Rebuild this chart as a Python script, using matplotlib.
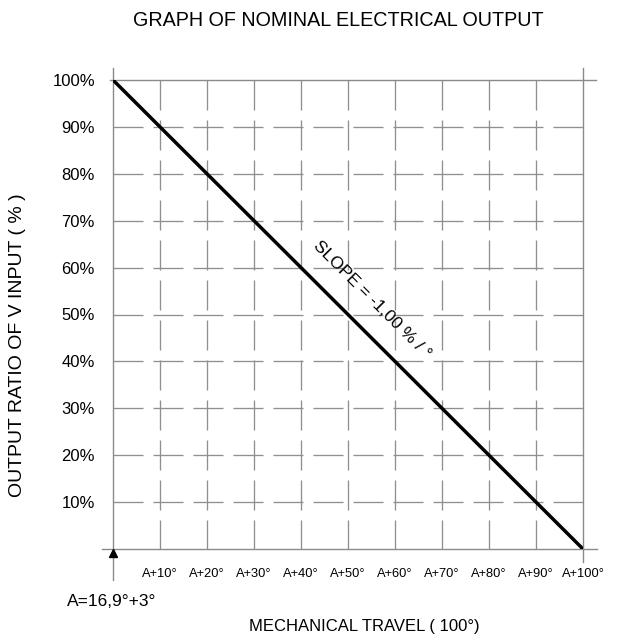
import matplotlib
matplotlib.use("Agg")
import matplotlib.pyplot as plt
import matplotlib.transforms as mtransforms

plt.rcParams['font.family'] = ['Liberation Sans', 'DejaVu Sans']
plt.rcParams['lines.scale_dashes'] = False

# data
travel = [0, 100]
output = [100, 0]
x_grid = [10, 20, 30, 40, 50, 60, 70, 80, 90]
y_grid = [10, 20, 30, 40, 50, 60, 70, 80, 90]
x_ticks = [10, 20, 30, 40, 50, 60, 70, 80, 90, 100]
x_labels = ["A+10°", "A+20°", "A+30°", "A+40°", "A+50°", "A+60°", "A+70°", "A+80°", "A+90°", "A+100°"]
y_ticks = [10, 20, 30, 40, 50, 60, 70, 80, 90, 100]
y_labels = ["10%", "20%", "30%", "40%", "50%", "60%", "70%", "80%", "90%", "100%"]

W, H = 626, 637
fig = plt.figure(figsize=(W / 100, H / 100), dpi=100)
L, R, T, B = 113, 583, 80, 549
ax = fig.add_axes([L / W, 1 - B / H, (R - L) / W, (B - T) / H])
ax.set_xlim(0, 100)
ax.set_ylim(0, 100)
for s in ax.spines.values():
    s.set_visible(False)

grid_col = '#8f8f8f'
dash = (0, (21.6, 7.2))
for y in y_grid:
    ax.plot([0, 100], [y, y], color=grid_col, lw=0.95, linestyle=dash, zorder=1)
for x in x_grid:
    ax.plot([x, x], [100, 0], color=grid_col, lw=0.95, linestyle=dash, zorder=1)

frame_col = '#8a8a8a'
ax.plot([-0.7, 102.8], [100, 100], color=frame_col, lw=1.0, clip_on=False, zorder=2)
ax.plot([-2.3, 103.0], [0, 0], color=frame_col, lw=1.0, clip_on=False, zorder=2)
ax.plot([0, 0], [102.6, -6.6], color=frame_col, lw=1.0, clip_on=False, zorder=2)
ax.plot([100, 100], [102.6, -2.8], color=frame_col, lw=1.0, clip_on=False, zorder=2)

# main line
ax.plot(travel, output, color='black', lw=2.5, solid_capstyle='round', zorder=3)

# arrow marker at origin
trans = mtransforms.offset_copy(ax.transData, fig=fig, x=0, y=-4, units='dots')
ax.plot([0], [0], marker='^', color='black', markersize=5.5, transform=trans,
        clip_on=False, zorder=4)

ax.set_xticks(x_ticks)
ax.set_xticklabels(x_labels, fontsize=9.3)
ax.set_yticks(y_ticks)
ax.set_yticklabels(y_labels, fontsize=12)
ax.tick_params(axis='both', length=0)
ax.tick_params(axis='x', pad=13.5)
ax.tick_params(axis='y', pad=13)

ax.text(55.2, 53.2, "SLOPE = -1,00 % / °", rotation=-45, rotation_mode='anchor',
        ha='center', va='center', fontsize=12.6, zorder=5)

fig.text(338 / W, 1 - 21 / H, "GRAPH OF NOMINAL ELECTRICAL OUTPUT", ha='center', va='center', fontsize=14.2)
fig.text(364 / W, 1 - 627 / H, "MECHANICAL TRAVEL ( 100°)", ha='center', va='center', fontsize=12)
fig.text(18 / W, 1 - 345 / H, "OUTPUT RATIO OF V INPUT ( % )", ha='center', va='center',
         rotation=90, fontsize=14)
fig.text(112 / W, 1 - 601 / H, "A=16,9°+3°", ha='center', va='center', fontsize=12.5)

fig.savefig("out.png", dpi=100, facecolor='white')
